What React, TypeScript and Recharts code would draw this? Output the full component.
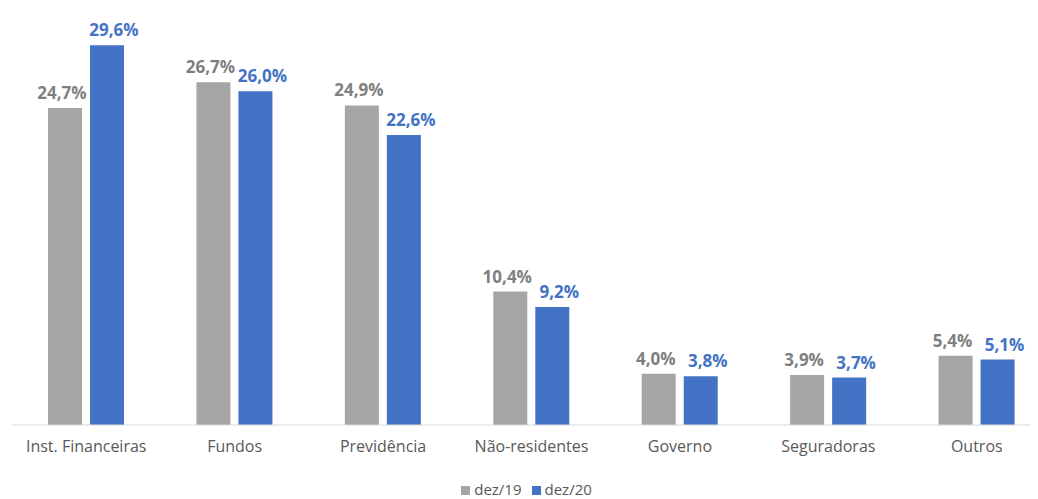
import { BarChart, Bar, XAxis, YAxis, Legend, LabelList } from 'recharts';

const categories = [
  'Inst. Financeiras',
  'Fundos',
  'Previdência',
  'Não-residentes',
  'Governo',
  'Seguradoras',
  'Outros',
];
const dez19 = [24.7, 26.7, 24.9, 10.4, 4.0, 3.9, 5.4];
const dez20 = [29.6, 26.0, 22.6, 9.2, 3.8, 3.7, 5.1];

const data = categories.map((name, i) => ({ name, dez19: dez19[i], dez20: dez20[i] }));

const fmt = (v: number) => `${v.toFixed(1).replace('.', ',')}%`;

const GRAY = '#a5a5a5';
const BLUE = '#4472c4';
const FONT = '"Open Sans", "Noto Sans", sans-serif';

function makeLabel(color: string, dx: number) {
  return (props: any) => {
    const { x, y, width, value } = props;
    return (
      <text
        x={x + width / 2 + dx}
        y={y - 9}
        textAnchor="middle"
        fill={color}
        fontFamily={FONT}
        fontSize={17}
        fontWeight={700}
      >
        {fmt(value)}
      </text>
    );
  };
}

export default function App() {
  return (
    <div style={{ margin: '-8px 0 0 -8px', width: 1060, height: 499, overflow: 'hidden' }}>
      <BarChart
        width={1060}
        height={499}
        data={data}
        margin={{ top: 40, right: 9, bottom: 0, left: 12 }}
        barCategoryGap={36}
        barGap={8}
        barSize={34}
      >
        <XAxis
          dataKey="name"
          axisLine={{ stroke: '#d9d9d9' }}
          tickLine={false}
          height={54}
          tickMargin={10}
          tick={{ fill: '#595959', fontSize: 16, fontFamily: FONT }}
          interval={0}
        />
        <YAxis hide domain={[0, 30]} />
        <Legend
          verticalAlign="bottom"
          iconType="square"
          iconSize={9}
          wrapperStyle={{ fontFamily: FONT, fontSize: 15, color: '#595959' }}
          formatter={(value) => <span style={{ color: '#595959' }}>{value}</span>}
        />
        <Bar dataKey="dez19" name="dez/19" fill={GRAY} isAnimationActive={false}>
          <LabelList dataKey="dez19" content={makeLabel('#7f7f7f', -3)} />
        </Bar>
        <Bar dataKey="dez20" name="dez/20" fill={BLUE} isAnimationActive={false}>
          <LabelList dataKey="dez20" content={makeLabel(BLUE, 7)} />
        </Bar>
      </BarChart>
    </div>
  );
}
